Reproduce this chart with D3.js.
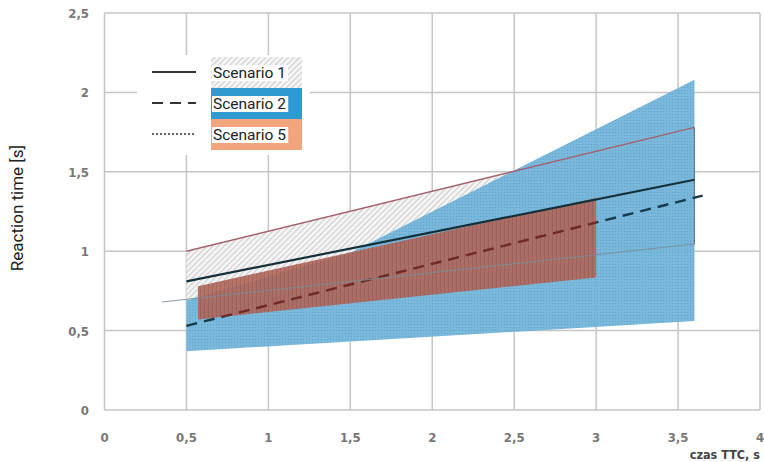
<!DOCTYPE html>
<html>
<head>
<meta charset="utf-8">
<script src="https://cdn.jsdelivr.net/npm/d3@7"></script>
<style>
  body { margin: 0; background: #fff; }
  svg { display: block; }
</style>
</head>
<body>
<svg id="chart" width="764" height="462"></svg>
<script>
// Valeurs
const xTicks = [0, 0.5, 1, 1.5, 2, 2.5, 3, 3.5, 4];
const yTicks = [0, 0.5, 1, 1.5, 2, 2.5];

// Scenario 1 : bande grise hachurée
const s1Upper = [[0.5, 1.0], [3.6, 1.78]];
const s1Lower = [[0.35, 0.68], [3.6, 1.045]];
const s1Mean = [[0.5, 0.81], [3.6, 1.45]];
// Scenario 2 : bande bleue
const s2Upper = [[0.5, 0.69], [1.5, 0.99], [3.6, 2.08]];
const s2Lower = [[0.5, 0.37], [3.6, 0.56]];
const s2Mean = [[0.5, 0.53], [3.65, 1.35]];
// Scenario 5 : bande brune
const s5Upper = [[0.57, 0.78], [3.0, 1.335]];
const s5Lower = [[0.57, 0.57], [3.0, 0.835]];

const legendNames = ["Scenario 1", "Scenario 2", "Scenario 5"];

const svg = d3.select("#chart");
const x = d3.scaleLinear().domain([0, 4]).range([104.5, 760]);
const y = d3.scaleLinear().domain([0, 2.5]).range([410, 13]);

// Motifs de hachures
const defs = svg.append("defs");
const grayPat = defs.append("pattern").attr("id", "hatchGray")
  .attr("patternUnits", "userSpaceOnUse").attr("width", 4).attr("height", 4)
  .attr("patternTransform", "rotate(45)");
grayPat.append("rect").attr("width", 4).attr("height", 4).attr("fill", "#f4f4f4");
grayPat.append("line").attr("x1", 0).attr("y1", 0).attr("x2", 0).attr("y2", 4)
  .attr("stroke", "#b8b8b8").attr("stroke-width", 1.3);

const bluePat = defs.append("pattern").attr("id", "hatchBlue")
  .attr("patternUnits", "userSpaceOnUse").attr("width", 3).attr("height", 3);
bluePat.append("rect").attr("width", 3).attr("height", 3).attr("fill", "#74b5da");
bluePat.append("rect").attr("width", 1).attr("height", 1).attr("fill", "#5a9fc8");

const brownPat = defs.append("pattern").attr("id", "hatchBrown")
  .attr("patternUnits", "userSpaceOnUse").attr("width", 4).attr("height", 4);
brownPat.append("rect").attr("width", 4).attr("height", 4).attr("fill", "#b0665a");
brownPat.append("rect").attr("width", 1).attr("height", 4).attr("fill", "#9e584d");

// Grille
const grid = svg.append("g");
grid.selectAll("line.v").data(xTicks).enter().append("line")
  .attr("x1", d => x(d)).attr("x2", d => x(d))
  .attr("y1", y(2.5)).attr("y2", y(0))
  .attr("stroke", "#c6c6c6").attr("stroke-width", 1.5);
grid.selectAll("line.h").data(yTicks).enter().append("line")
  .attr("x1", x(0)).attr("x2", x(4))
  .attr("y1", d => y(d)).attr("y2", d => y(d))
  .attr("stroke", "#c6c6c6").attr("stroke-width", 1.5);

const line = d3.line().x(d => x(d[0])).y(d => y(d[1]));
const interp = (pts, xv) => d3.scaleLinear().domain(pts.map(p => p[0])).range(pts.map(p => p[1]))(xv);

function band(upper, lower) {
  // Polygone entre la borne supérieure et la borne inférieure, sur l'étendue de la borne supérieure
  const x0 = upper[0][0], x1 = upper[upper.length - 1][0];
  return upper.concat([[x1, interp(lower, x1)], [x0, interp(lower, x0)]]);
}

// Scenario 1
svg.append("path").datum(band(s1Upper, s1Lower))
  .attr("d", d => line(d) + "Z").attr("fill", "url(#hatchGray)");

// Scenario 2
svg.append("path").datum(band(s2Upper, s2Lower))
  .attr("d", d => line(d) + "Z").attr("fill", "url(#hatchBlue)").attr("opacity", 0.95);

// Bornes du scenario 1
svg.append("path").datum(s1Upper).attr("d", line)
  .attr("stroke", "#a4606e").attr("stroke-width", 1.4).attr("fill", "none");
svg.append("path").datum([[s1Upper[1][0], s1Upper[1][1]], [s1Upper[1][0], interp(s1Lower, s1Upper[1][0])]])
  .attr("d", line).attr("stroke", "#5d7d94").attr("stroke-width", 1.2).attr("fill", "none");

// Moyenne du scenario 2 (pointillés)
svg.append("path").datum(s2Mean).attr("d", line)
  .attr("stroke", "#173a4c").attr("stroke-width", 2.4).attr("stroke-dasharray", "11,7")
  .attr("fill", "none");

// Scenario 5
const s5Band = band(s5Upper, s5Lower);
svg.append("path").datum(s5Band)
  .attr("d", d => line(d) + "Z").attr("fill", "url(#hatchBrown)").attr("opacity", 0.9);
defs.append("clipPath").attr("id", "clipS5").append("path").datum(s5Band)
  .attr("d", d => line(d) + "Z");
// Pointillés vus à travers la bande brune
svg.append("path").datum(s2Mean).attr("d", line).attr("clip-path", "url(#clipS5)")
  .attr("stroke", "#6e2b27").attr("stroke-width", 2.4).attr("stroke-dasharray", "11,7")
  .attr("fill", "none");

svg.append("path").datum(s1Lower).attr("d", line)
  .attr("stroke", "#7d8a96").attr("stroke-width", 1.1).attr("opacity", 0.85).attr("fill", "none");
svg.append("path").datum(s1Mean).attr("d", line)
  .attr("stroke", "#14303a").attr("stroke-width", 2.2).attr("fill", "none");

// Axes
const axisFont = "'DejaVu Sans Condensed', 'DejaVu Sans', sans-serif";
svg.append("g").selectAll("text").data(yTicks).enter().append("text")
  .attr("x", 89).attr("y", d => y(d) + 5)
  .attr("text-anchor", "end").attr("font-family", axisFont).attr("font-weight", "bold")
  .attr("font-size", 13).attr("fill", "#777")
  .text(d => d3.format("")(d).replace(".", ","));
svg.append("g").selectAll("text").data(xTicks).enter().append("text")
  .attr("x", d => x(d)).attr("y", 442)
  .attr("text-anchor", "middle").attr("font-family", axisFont).attr("font-weight", "bold")
  .attr("font-size", 13).attr("fill", "#777")
  .text(d => d3.format("")(d).replace(".", ","));

svg.append("text").attr("x", 760).attr("y", 459).attr("text-anchor", "end")
  .attr("font-family", axisFont).attr("font-weight", "bold").attr("font-size", 12.5)
  .attr("fill", "#444").text("czas TTC, s");
svg.append("text").attr("transform", "translate(23,208) rotate(-90)")
  .attr("text-anchor", "middle").attr("font-family", "Roboto, sans-serif")
  .attr("font-size", 17).attr("fill", "#222").text("Reaction time [s]");

// Légende
const legend = svg.append("g");
legend.append("rect").attr("x", 137).attr("y", 55).attr("width", 173).attr("height", 100)
  .attr("fill", "#fff");
const swatchFill = ["url(#hatchGray)", "#2f9ad0", "#f2a57c"];
const dash = [null, "11,7", "2,2"];
legendNames.forEach((name, i) => {
  const yy = 72 + i * 31;
  legend.append("line").attr("x1", 152).attr("x2", 196).attr("y1", yy).attr("y2", yy)
    .attr("stroke", "#333").attr("stroke-width", i === 2 ? 1.5 : 2.2)
    .attr("stroke-dasharray", dash[i]);
  legend.append("rect").attr("x", 211).attr("y", 57 + i * 31).attr("width", 91).attr("height", 31)
    .attr("fill", swatchFill[i]);
  const t = legend.append("text").attr("x", 213).attr("y", yy + 6)
    .attr("font-family", "Roboto, sans-serif").attr("font-size", 15.5).attr("fill", "#222")
    .text(name);
  const bb = t.node().getBBox();
  legend.insert("rect", () => t.node()).attr("x", bb.x - 1).attr("y", bb.y + 1)
    .attr("width", bb.width + 3).attr("height", bb.height - 2).attr("fill", "#fff");
});
</script>
</body>
</html>
